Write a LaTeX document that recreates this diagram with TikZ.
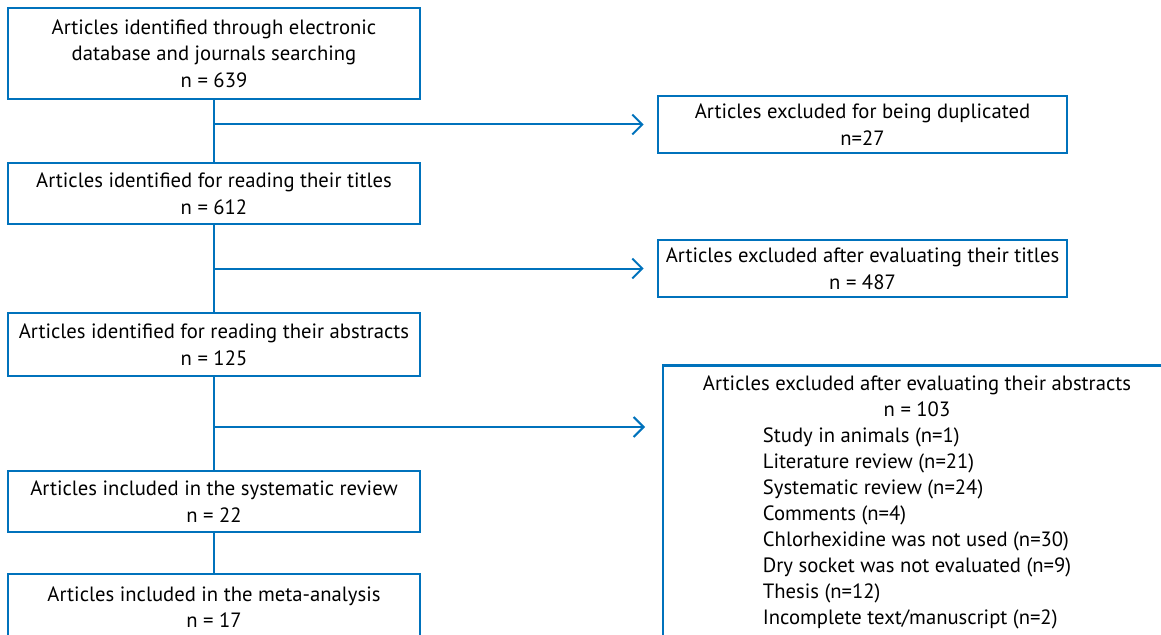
\documentclass[tikz,border=0pt]{standalone}
\usepackage{fontspec}
\setmainfont{PT Sans}
\usetikzlibrary{arrows.meta}
\definecolor{prisma}{RGB}{0,114,188}
\tikzset{
  stage/.style={draw=prisma,line width=2pt,minimum width=309pt,inner sep=0pt,align=center,font=\fontsize{15.5}{20}\selectfont},
  excl/.style={draw=prisma,line width=2pt,minimum width=306.75pt,minimum height=42.75pt,inner sep=0pt,align=center,font=\fontsize{15.5}{20}\selectfont},
  flow/.style={draw=prisma,line width=1.5pt},
  skip/.style={flow,-{Straight Barb[length=7.5pt,width=15pt,line width=1.5pt]},shorten >=9.75pt}
}
\begin{document}
\begin{tikzpicture}[x=0.75pt,y=-0.75pt]
  \clip (0,0) rectangle (1161,635);
  % main column
  \node[stage,minimum height=68.25pt] (found) at (214,53.5)
    {Articles identified through electronic\\database and journals searching\\n = 639};
  \node[stage,minimum height=45.75pt] (titles) at (214,193.5)
    {Articles identified for reading their titles\\n = 612};
  \node[stage,minimum height=47.25pt] (abstracts) at (214,344.5)
    {Articles identified for reading their abstracts\\n = 125};
  \node[stage,minimum height=45.75pt] (review) at (214,501.5)
    {Articles included in the systematic review\\n = 22};
  \node[stage,minimum height=49.5pt] (meta) at (214,607)
    {Articles included in the meta-analysis\\n = 17};
  % exclusions
  \node[excl] (dup) at (862.5,124.5)
    {Articles excluded for being duplicated\\n=27};
  \node[excl] (extitles) at (862.5,268.5)
    {Articles excluded after evaluating their titles\\n = 487};
  \node[excl,minimum width=381.75pt,minimum height=225pt,anchor=north] (exabs) at (917.5,364) {};
  \node[anchor=north,inner sep=0pt,align=center,font=\fontsize{15.5}{19.5}\selectfont] (exabstxt) at (917,376)
    {Articles excluded after evaluating their abstracts\\n = 103\\
     \begin{tabular}[t]{@{}l@{}}
       Study in animals (n=1)\\
       Literature review (n=21)\\
       Systematic review (n=24)\\
       Comments (n=4)\\
       Chlorhexidine was not used (n=30)\\
       Dry socket was not evaluated (n=9)\\
       Thesis (n=12)\\
       Incomplete text/manuscript (n=2)
     \end{tabular}};
  \coordinate (absin) at (663,427);
  % connectors
  \draw[flow] (found) -- (titles);
  \draw[flow] (titles) -- (abstracts);
  \draw[flow] (abstracts) -- (review);
  \draw[flow] (review) -- (meta);
  \draw[skip] (found.south |- dup) -- (dup);
  \draw[skip] (titles.south |- extitles) -- (extitles);
  \draw[skip,shorten >=13.5pt] (abstracts.south |- absin) -- (absin);
\end{tikzpicture}
\end{document}
